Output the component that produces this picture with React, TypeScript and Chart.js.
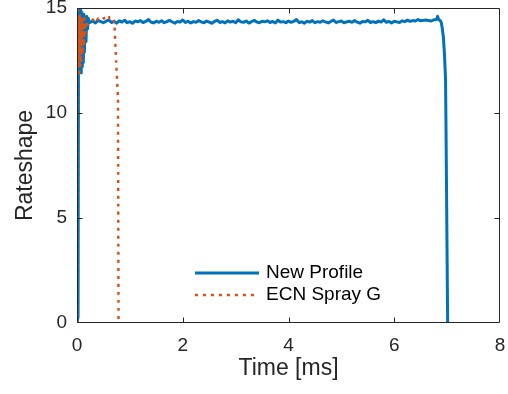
import React, { useEffect, useRef } from "react";
import { Chart, registerables } from "chart.js";

Chart.register(...registerables);

// ---- data ----
const xTickValues = [0, 2, 4, 6, 8];
const yTickValues = [0, 5, 10, 15];

const seriesNames = ["New Profile", "ECN Spray G"];

// New Profile: start transient
const profileStartTimes = [0, 0.02, 0.03, 0.04, 0.05, 0.06, 0.07, 0.08, 0.09, 0.1, 0.11, 0.12, 0.13, 0.14, 0.155, 0.17, 0.185, 0.2, 0.215, 0.23];
const profileStartValues = [0, 0.3, 15.4, 12.5, 15.2, 12.0, 14.9, 11.9, 14.8, 12.2, 14.6, 12.4, 14.7, 12.9, 14.5, 13.4, 14.6, 14.0, 14.5, 14.3];

// New Profile: plateau, sampled every 0.05 ms starting at 0.25 ms
const plateauStartTime = 0.25;
const plateauSampleStep = 0.05;
const plateauValues = [
  14.32, 14.38, 14.29, 14.41, 14.35, 14.30, 14.37, 14.44, 14.31, 14.36,
  14.28, 14.39, 14.33, 14.42, 14.30, 14.35, 14.27, 14.38, 14.34, 14.40,
  14.31, 14.36, 14.45, 14.33, 14.29, 14.37, 14.32, 14.39, 14.30, 14.35,
  14.41, 14.34, 14.28, 14.36, 14.33, 14.43, 14.31, 14.37, 14.29, 14.35,
  14.32, 14.40, 14.34, 14.30, 14.38, 14.33, 14.27, 14.36, 14.42, 14.31,
  14.35, 14.29, 14.39, 14.33, 14.37, 14.30, 14.44, 14.34, 14.32, 14.38,
  14.28, 14.35, 14.41, 14.33, 14.30, 14.37, 14.34, 14.39, 14.31, 14.36,
  14.29, 14.42, 14.33, 14.35, 14.30, 14.38, 14.32, 14.36, 14.45, 14.31,
  14.34, 14.28, 14.37, 14.33, 14.40, 14.30, 14.35, 14.32, 14.39, 14.34,
  14.29, 14.36, 14.43, 14.31, 14.35, 14.38, 14.30, 14.34, 14.37, 14.32,
  14.40, 14.33, 14.28, 14.36, 14.34, 14.41, 14.31, 14.35, 14.30, 14.38,
  14.33, 14.44, 14.32, 14.36, 14.29, 14.37, 14.34, 14.31, 14.39, 14.35,
  14.42, 14.36, 14.40, 14.38, 14.45, 14.39, 14.41, 14.43, 14.40, 14.38,
  14.44, 14.45,
];

// New Profile: end of injection
const profileEndTimes = [6.82, 6.84, 6.87, 6.89, 6.91, 6.93, 6.95, 6.97, 6.98, 6.99, 7.0, 7.01];
const profileEndValues = [14.6, 14.45, 14.4, 14.3, 14.0, 13.6, 12.8, 11.6, 9.0, 6.0, 3.0, 0];

// ECN Spray G
const sprayTimes = [0, 0.005, 0.015, 0.025, 0.035, 0.045, 0.055, 0.065, 0.075, 0.085, 0.095, 0.105, 0.115, 0.13, 0.145, 0.16, 0.18, 0.2, 0.25, 0.3, 0.35, 0.4, 0.45, 0.5, 0.55, 0.59, 0.62, 0.66, 0.7, 0.71, 0.74, 0.775, 0.78, 0.785];
const sprayValues = [0, 13.5, 14.9, 12.3, 14.6, 11.9, 14.7, 12.2, 14.5, 12.5, 14.6, 12.8, 14.4, 13.2, 14.5, 13.8, 14.4, 14.2, 14.35, 14.45, 14.3, 14.5, 14.4, 14.5, 14.55, 14.65, 14.5, 14.55, 14.4, 14.1, 12.5, 10.7, 6.0, 0];

const FONT = "'Liberation Sans', Arial, Helvetica, sans-serif";
const AXIS_COLOR = "#262626";
const BLUE = "#0072BD";
const RED = "#D95319";

function buildProfilePoints() {
  const pts: { x: number; y: number }[] = [];
  profileStartTimes.forEach((t, i) => pts.push({ x: t, y: profileStartValues[i] }));
  plateauValues.forEach((v, i) => pts.push({ x: +(plateauStartTime + i * plateauSampleStep).toFixed(3), y: v }));
  profileEndTimes.forEach((t, i) => pts.push({ x: t, y: profileEndValues[i] }));
  return pts;
}

function buildSprayPoints() {
  return sprayTimes.map((t, i) => ({ x: t, y: sprayValues[i] }));
}

const boxPlugin = {
  id: "matlabBox",
  afterDatasetsDraw(chart: any) {
    const { ctx, chartArea } = chart;
    const { left, right, top, bottom } = chartArea;
    const xs = chart.scales.x;
    const ys = chart.scales.y;
    const L = Math.round(left) + 0.5;
    const R = Math.round(right) - 0.5;
    const T = Math.round(top) + 0.5;
    const B = Math.round(bottom) - 0.5;
    ctx.save();
    ctx.strokeStyle = AXIS_COLOR;
    ctx.lineWidth = 1;
    ctx.setLineDash([]);
    ctx.beginPath();
    ctx.moveTo(L, T);
    ctx.lineTo(R, T);
    ctx.lineTo(R, B);
    ctx.lineTo(L, B);
    ctx.closePath();
    const tl = 5;
    xTickValues.forEach((v) => {
      const px = Math.round(xs.getPixelForValue(v)) + 0.5;
      if (px <= L + 1 || px >= R - 1) return;
      ctx.moveTo(px, B);
      ctx.lineTo(px, B - tl);
      ctx.moveTo(px, T);
      ctx.lineTo(px, T + tl);
    });
    yTickValues.forEach((v) => {
      const py = Math.round(ys.getPixelForValue(v)) + 0.5;
      if (py <= T + 1 || py >= B - 1) return;
      ctx.moveTo(L, py);
      ctx.lineTo(L + tl, py);
      ctx.moveTo(R, py);
      ctx.lineTo(R - tl, py);
    });
    ctx.stroke();
    ctx.restore();
  },
};

const legendPlugin = {
  id: "matlabLegend",
  afterDraw(chart: any) {
    const { ctx, chartArea } = chart;
    const lx = chartArea.left + 118;
    const ly = chartArea.top + 265;
    ctx.save();
    chart.data.datasets.forEach((ds: any, i: number) => {
      const y = ly + i * 22;
      ctx.beginPath();
      ctx.strokeStyle = ds.borderColor;
      ctx.lineWidth = ds.borderWidth;
      ctx.lineCap = "butt";
      ctx.setLineDash(ds.borderDash || []);
      ctx.moveTo(lx, y);
      ctx.lineTo(lx + 64, y);
      ctx.stroke();
      ctx.setLineDash([]);
      ctx.fillStyle = "#000";
      ctx.font = `19px ${FONT}`;
      ctx.textAlign = "left";
      ctx.textBaseline = "middle";
      ctx.fillText(ds.label, lx + 71, y);
    });
    ctx.restore();
  },
};

export default function App() {
  const canvasRef = useRef<HTMLCanvasElement | null>(null);

  useEffect(() => {
    document.body.style.margin = "0";
    const canvas = canvasRef.current;
    if (!canvas) return;
    const chart = new Chart(canvas, {
      type: "line",
      data: {
        datasets: [
          {
            label: seriesNames[0],
            data: buildProfilePoints(),
            borderColor: BLUE,
            backgroundColor: BLUE,
            borderWidth: 3,
            borderJoinStyle: "round",
            borderCapStyle: "round",
            pointRadius: 0,
            tension: 0.000001,
            fill: false,
            clip: 0,
            order: 2,
          } as any,
          {
            label: seriesNames[1],
            data: buildSprayPoints(),
            borderColor: RED,
            backgroundColor: RED,
            borderWidth: 2.5,
            borderDash: [3, 5],
            borderJoinStyle: "round",
            pointRadius: 0,
            tension: 0.000001,
            fill: false,
            clip: 0,
            order: 1,
          } as any,
        ],
      },
      options: {
        animation: false,
        responsive: false,
        devicePixelRatio: 1,
        layout: { padding: { top: 8, right: 8, left: 0, bottom: 0 } },
        plugins: { legend: { display: false }, tooltip: { enabled: false } },
        scales: {
          x: {
            type: "linear",
            min: 0,
            max: 8,
            afterBuildTicks: (scale: any) => {
              scale.ticks = xTickValues.map((v) => ({ value: v }));
            },
            afterFit: (scale: any) => {
              scale.height = 71;
              scale.paddingLeft = 0;
              scale.paddingRight = 0;
            },
            grid: { display: false, drawTicks: false },
            border: { display: false },
            ticks: {
              padding: 11,
              maxRotation: 0,
              color: AXIS_COLOR,
              font: { family: FONT, size: 19 },
            },
            title: {
              display: true,
              text: "Time [ms]",
              color: AXIS_COLOR,
              font: { family: FONT, size: 23 },
              padding: { top: 0, bottom: 12 },
            },
          },
          y: {
            type: "linear",
            min: 0,
            max: 15,
            afterBuildTicks: (scale: any) => {
              scale.ticks = yTickValues.map((v) => ({ value: v }));
            },
            afterFit: (scale: any) => {
              scale.width = 77;
              scale.paddingTop = 0;
              scale.paddingBottom = 0;
            },
            grid: { display: false, drawTicks: false },
            border: { display: false },
            ticks: {
              padding: 10,
              color: AXIS_COLOR,
              font: { family: FONT, size: 19 },
            },
            title: {
              display: true,
              text: "Rateshape",
              color: AXIS_COLOR,
              font: { family: FONT, size: 23 },
              padding: { top: 12, bottom: 0 },
            },
          },
        },
      } as any,
      plugins: [boxPlugin, legendPlugin],
    });
    return () => chart.destroy();
  }, []);

  return (
    <div style={{ position: "absolute", left: 0, top: 0, width: 508, height: 394, background: "#fff" }}>
      <canvas ref={canvasRef} width={508} height={394} style={{ display: "block" }} />
    </div>
  );
}
